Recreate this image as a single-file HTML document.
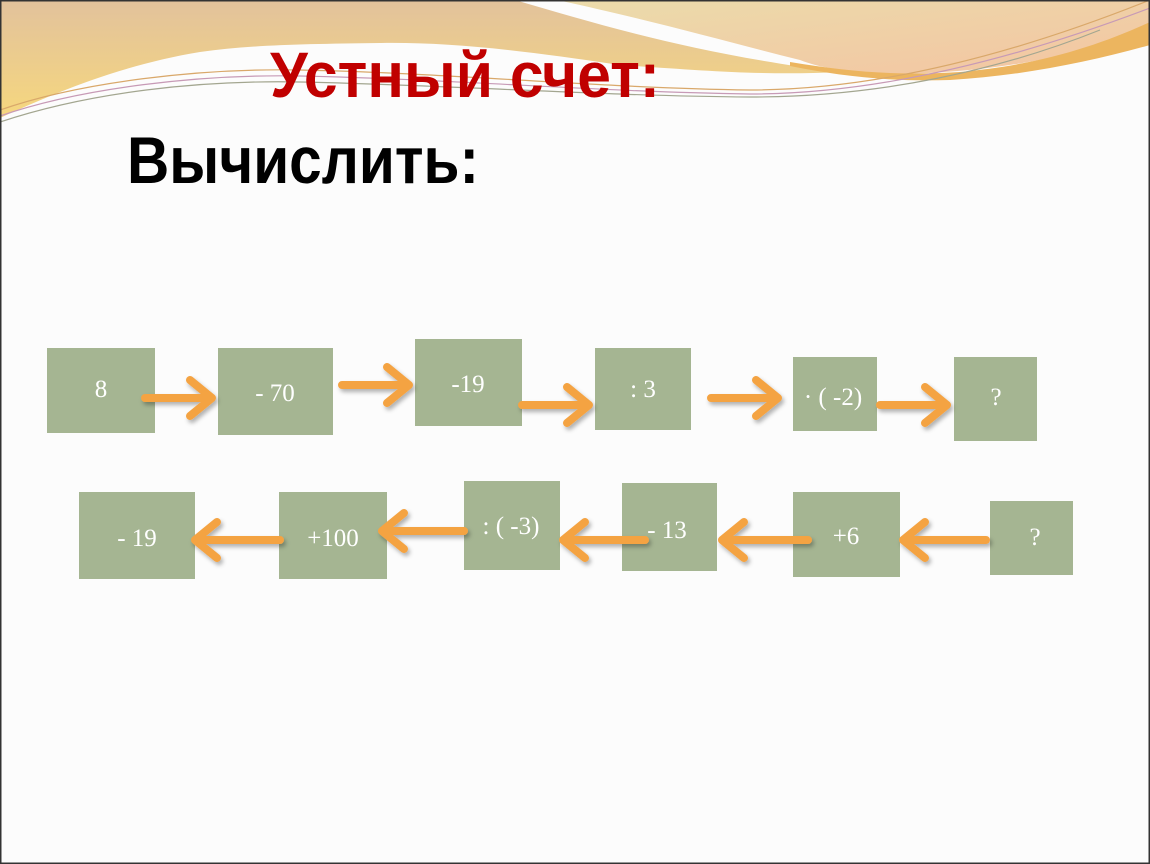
<!DOCTYPE html>
<html><head><meta charset="utf-8"><style>
html,body{margin:0;padding:0;background:#fff;}
svg{display:block;}
</style></head><body>
<svg width="1150" height="864" viewBox="0 0 1150 864" xmlns="http://www.w3.org/2000/svg">
<defs>
<linearGradient id="g1" x1="0" y1="0" x2="0" y2="1">
<stop offset="0" stop-color="#e2c29c"/><stop offset="1" stop-color="#f6d77e"/>
</linearGradient>
<linearGradient id="g2" x1="0" y1="0" x2="1" y2="1">
<stop offset="0" stop-color="#ebdcab"/><stop offset="1" stop-color="#f4c4a2"/>
</linearGradient>
<filter id="sh" x="-10%" y="-30%" width="130%" height="160%"><feDropShadow dx="2" dy="3" stdDeviation="2" flood-color="#000" flood-opacity="0.3"/></filter>
</defs>
<rect x="0" y="0" width="1150" height="864" fill="#fcfcfc"/>
<path d="M0,0 L515,0 C600,25 700,55 840,72 C760,76 700,70 620,65 C520,50 450,42 380,43 C300,44 250,45 200,52 C120,65 50,95 0,118 Z" fill="url(#g1)"/>
<path d="M557,0 L1150,0 L1150,30 C1080,55 1000,72 900,74 C850,73 820,68 800,60 C720,40 650,20 557,0 Z" fill="url(#g2)"/>
<path d="M790,62 C850,72 900,76 960,72 C1040,65 1100,45 1150,22 L1150,45 C1090,62 1020,76 950,80 C890,82 840,76 790,66 Z" fill="#ecb55f"/>
<path d="M0,110 C80,82 200,68 300,70 C450,73 600,88 750,90 C900,90 1050,40 1150,0" fill="none" stroke="#d9a86a" stroke-width="1.2"/>
<path d="M0,116 C80,88 200,74 300,76 C450,79 600,92 750,94 C900,94 1050,46 1150,8" fill="none" stroke="#c79ab6" stroke-width="1.2"/>
<path d="M0,122 C90,92 200,80 300,82 C450,85 600,96 750,97 C880,97 1000,70 1100,30" fill="none" stroke="#a3a690" stroke-width="1.2"/>
<rect x="0.5" y="0.5" width="1149" height="863" fill="none" stroke="#333" stroke-width="2"/>
<text x="270" y="97" font-family="Liberation Sans Narrow, Liberation Sans, sans-serif" font-weight="bold" font-size="64" fill="#c00000" textLength="390" lengthAdjust="spacingAndGlyphs">Устный счет:</text>
<text x="127" y="183" font-family="Liberation Sans Narrow, Liberation Sans, sans-serif" font-weight="bold" font-size="66" fill="#000" textLength="352" lengthAdjust="spacingAndGlyphs">Вычислить:</text>
<g fill="#a5b592">
<rect x="47" y="348" width="108" height="85"/>
<rect x="218" y="348" width="115" height="87"/>
<rect x="415" y="339" width="107" height="87"/>
<rect x="595" y="348" width="96" height="82"/>
<rect x="793" y="357" width="84" height="74"/>
<rect x="954" y="357" width="83" height="84"/>
<rect x="79" y="492" width="116" height="87"/>
<rect x="279" y="492" width="108" height="87"/>
<rect x="464" y="481" width="96" height="89"/>
<rect x="622" y="483" width="95" height="88"/>
<rect x="793" y="492" width="107" height="85"/>
<rect x="990" y="501" width="83" height="74"/>
</g>
<g font-family="Liberation Serif, serif" font-size="25" fill="#fff" text-anchor="middle">
<text x="101" y="397">8</text>
<text x="275" y="401">- 70</text>
<text x="468" y="392">-19</text>
<text x="643" y="397">: 3</text>
<text x="833" y="405">· ( -2)</text>
<text x="996" y="405">?</text>
<text x="137" y="546">- 19</text>
<text x="333" y="546">+100</text>
<text x="511" y="534">: ( -3)</text>
<text x="667" y="538">- 13</text>
<text x="846" y="544">+6</text>
<text x="1035" y="545">?</text>
</g>
<g stroke="#f4a343" stroke-width="8" fill="none" stroke-linecap="round" stroke-linejoin="round" filter="url(#sh)">
<path d="M145,398 H212 M190,380 L212,398 L190,416"/>
<path d="M342,385 H409 M387,367 L409,385 L387,403"/>
<path d="M522,405 H589 M567,387 L589,405 L567,423"/>
<path d="M711,398 H778 M756,380 L778,398 L756,416"/>
<path d="M880,405 H947 M925,387 L947,405 L925,423"/>
<path d="M280,540 H195 M217,522 L195,540 L217,558"/>
<path d="M464,531 H382 M404,513 L382,531 L404,549"/>
<path d="M645,540 H563 M585,522 L563,540 L585,558"/>
<path d="M808,540 H722 M744,522 L722,540 L744,558"/>
<path d="M986,540 H903 M925,522 L903,540 L925,558"/>
</g>
</svg>
</body></html>
